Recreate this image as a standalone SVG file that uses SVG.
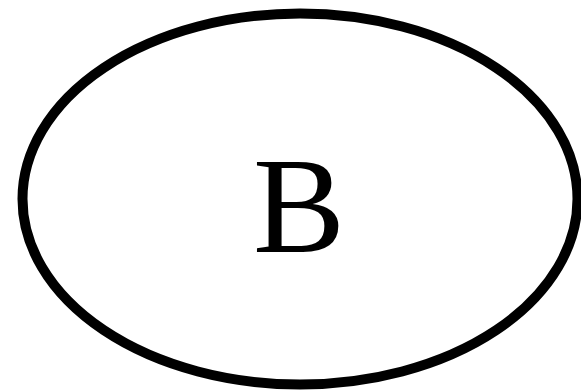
<svg xmlns="http://www.w3.org/2000/svg" width="581" height="390" viewBox="0 0 581 390">
<style>
.node ellipse{fill:#fff;stroke:#000;stroke-width:10}
.node text{font-family:"Liberation Serif","Times New Roman",serif;font-size:138px;fill:#000;text-anchor:middle}
</style>
<rect width="581" height="390" fill="#fff"/>
<g id="connectors"></g>
<g id="B" class="node">
<ellipse cx="300" cy="199" rx="277.5" ry="185.5"/>
<text x="299" y="252">B</text>
</g>
</svg>
